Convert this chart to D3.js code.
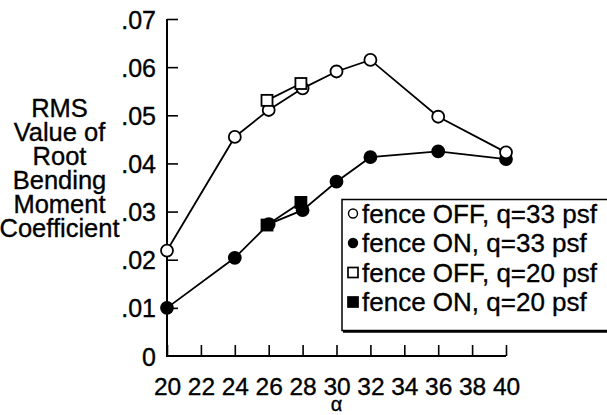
<!DOCTYPE html>
<html><head><meta charset="utf-8">
<script src="https://cdn.jsdelivr.net/npm/d3@7"></script>
<style>body{margin:0;background:#fff}svg{display:block}text{font-family:"Liberation Sans",Arial,sans-serif;fill:#000;stroke:#000;stroke-width:0.35px}</style>
</head><body>
<script>
const alphaOffQ33 = [20, 24, 26, 28, 30, 32, 36, 40];
const offQ33 = [0.0219, 0.0455, 0.0511, 0.0556, 0.0591, 0.0615, 0.0497, 0.0423];
const alphaOnQ33 = [20, 24, 26, 28, 30, 32, 36, 40];
const onQ33 = [0.0100, 0.0204, 0.0274, 0.0303, 0.0362, 0.0413, 0.0425, 0.0409];
const alphaOffQ20 = [25.9, 27.9];
const offQ20 = [0.0531, 0.0566];
const alphaOnQ20 = [25.9, 27.9];
const onQ20 = [0.0272, 0.0319];
const xTicks = [20, 22, 24, 26, 28, 30, 32, 34, 36, 38, 40];
const yTicks = [0, 0.01, 0.02, 0.03, 0.04, 0.05, 0.06, 0.07];
const yTickLabels = ["0", ".01", ".02", ".03", ".04", ".05", ".06", ".07"];
const yTitle = ["RMS", "Value of", "Root", "Bending", "Moment", "Coefficient"];
const legendLabels = ["fence OFF, q=33 psf", "fence ON, q=33 psf", "fence OFF, q=20 psf", "fence ON, q=20 psf"];

const W = 607, H = 415;
const svg = d3.select("body").append("svg").attr("width", W).attr("height", H);
const x = d3.scaleLinear().domain([20, 40]).range([167, 506]);
const y = d3.scaleLinear().domain([0, 0.07]).range([356, 19]);
const FF = "Liberation Sans, Arial, sans-serif";

// axes
const xAxis = d3.axisBottom(x).tickValues(xTicks).tickSize(-11).tickFormat(d3.format("d")).tickPadding(0);
const gx = svg.append("g").attr("transform", "translate(0,356)").call(xAxis);
gx.select(".domain").remove();
gx.selectAll(".tick line").attr("stroke", "#000").attr("stroke-width", 1.6);
gx.selectAll(".tick text").attr("font-size", 24.5).attr("y", 39).attr("dy", 0).attr("font-family", FF);

const yAxis = d3.axisLeft(y).tickValues(yTicks).tickSize(-11).tickFormat((d, i) => yTickLabels[i]).tickPadding(11);
const gy = svg.append("g").attr("transform", "translate(167,0)").call(yAxis);
gy.select(".domain").remove();
gy.selectAll(".tick line").attr("stroke", "#000").attr("stroke-width", 1.6);
gy.selectAll(".tick text").attr("font-size", 25).attr("dy", "0.36em").attr("font-family", FF);
gy.selectAll(".tick").filter(d => d === 0).select("line").remove();

// axis lines
svg.append("path").attr("d", `M${x(20)},${y(0.07)}V${y(0)}H${x(40)}`).attr("fill", "none").attr("stroke", "#000").attr("stroke-width", 2);

// titles
svg.append("text").attr("x", x(30)).attr("y", 411).attr("text-anchor", "middle").attr("font-size", 20).text("α");
const yt = svg.append("text").attr("text-anchor", "middle").attr("font-size", 25.5);
yTitle.forEach((t, i) => yt.append("tspan").attr("x", 59.5).attr("y", 116.5 + i * 24).text(t));

const line = d3.line().x(d => x(d[0])).y(d => y(d[1]));
function series(xs, ys, shape, fill) {
  const pts = xs.map((a, i) => [a, ys[i]]);
  svg.append("path").attr("d", line(pts)).attr("fill", "none").attr("stroke", "#000").attr("stroke-width", 1.8);
  const g = svg.append("g");
  if (shape === "circle") {
    g.selectAll("circle").data(pts).join("circle").attr("cx", d => x(d[0])).attr("cy", d => y(d[1])).attr("r", 6)
      .attr("fill", fill).attr("stroke", "#000").attr("stroke-width", 1.8);
  } else {
    g.selectAll("rect").data(pts).join("rect").attr("x", d => x(d[0]) - 5.5).attr("y", d => y(d[1]) - 5.5)
      .attr("width", 11).attr("height", 11).attr("fill", fill).attr("stroke", "#000").attr("stroke-width", 1.8);
  }
}
series(alphaOnQ33, onQ33, "circle", "#000");
series(alphaOnQ20, onQ20, "rect", "#000");
series(alphaOffQ33, offQ33, "circle", "#fff");
series(alphaOffQ20, offQ20, "rect", "#fff");

// legend
const lg = svg.append("g");
lg.append("rect").attr("x", 342).attr("y", 199.5).attr("width", 268).attr("height", 131).attr("fill", "#fff").attr("stroke", "#000").attr("stroke-width", 1.5);
lg.append("line").attr("x1", 343).attr("x2", 607).attr("y1", 331.5).attr("y2", 331.5).attr("stroke", "#000").attr("stroke-width", 2.5);
const shapes = [["circle", "#fff"], ["circle", "#000"], ["rect", "#fff"], ["rect", "#000"]];
legendLabels.forEach((t, i) => {
  const cy = 213.5 + i * 29.5;
  if (shapes[i][0] === "circle") {
    lg.append("circle").attr("cx", 353).attr("cy", cy).attr("r", 4.5).attr("fill", shapes[i][1]).attr("stroke", "#000").attr("stroke-width", 1.4);
  } else {
    lg.append("rect").attr("x", 348).attr("y", cy - 5).attr("width", 10).attr("height", 10).attr("fill", shapes[i][1]).attr("stroke", "#000").attr("stroke-width", 1.7);
  }
  lg.append("text").attr("x", 362).attr("y", cy).attr("dy", "0.36em").attr("font-size", 26).text(t);
});
</script>
</body></html>
